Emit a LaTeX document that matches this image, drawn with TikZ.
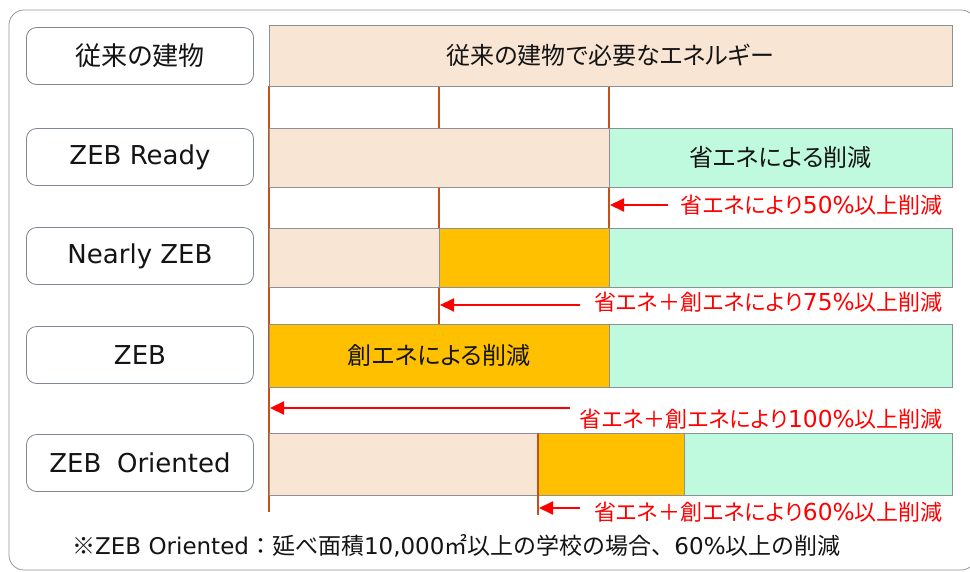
\documentclass[tikz,border=0pt]{standalone}
\usepackage{fontspec}
\setmainfont{Noto Sans CJK JP}[RawFeature={+palt}]
\newfontfamily\jpfull{Noto Sans CJK JP}
\newfontfamily\lat{DejaVu Sans}[Scale=1.0]
\newfontfamily\latb{DejaVu Sans}[Scale=1.06]
\usetikzlibrary{arrows.meta}
\definecolor{beige}{RGB}{248,229,212}
\definecolor{mint}{RGB}{192,250,222}
\definecolor{orng}{RGB}{255,192,0}
\definecolor{bargray}{RGB}{140,145,152}
\definecolor{boxgray}{RGB}{127,134,148}
\definecolor{tickred}{RGB}{197,80,26}
\definecolor{framegray}{RGB}{150,150,160}
\definecolor{txt}{RGB}{20,20,20}
\tikzset{
  lblbox/.style={draw=boxgray, fill=white, line width=0.8pt, rounded corners=10pt,
    minimum width=227pt, minimum height=57pt, inner sep=0pt, text=txt,
    font=\fontsize{26}{26}\selectfont},
  barbox/.style={draw=bargray, line width=1pt, anchor=north west, inner sep=0pt,
    outer sep=0pt, text=txt, font=\fontsize{24}{24}\selectfont},
  tickline/.style={draw=tickred, line width=1.5pt},
  redarrow/.style={draw=red, line width=2pt, -{Triangle[length=14pt,width=13pt]}},
  redtext/.style={text=red, anchor=east, inner sep=0pt, font=\fontsize{22}{22}\selectfont},
}
\begin{document}
\begin{tikzpicture}[x=1pt,y=-1pt]
\useasboundingbox (0,0) rectangle (970,571);
% outer frame
\draw[framegray, line width=0.8pt, rounded corners=15pt] (9,10) rectangle (976,570);

% left labels
\node[lblbox] (l1) at (140,56) {従来の建物};
\node[lblbox] (l2) at (140,157) {\lat ZEB Ready};
\node[lblbox] (l3) at (140,256) {\lat Nearly ZEB};
\node[lblbox] (l4) at (140,355) {\lat ZEB};
\node[lblbox] (l5) at (140,463) {\lat ZEB\hspace{0.6em}Oriented};

% ticks (under bars)
\coordinate (t1a) at (269,86);  \coordinate (t1b) at (269,512);
\coordinate (t2a) at (439,86);  \coordinate (t2b) at (439,324);
\coordinate (t3a) at (609,86);  \coordinate (t3b) at (609,228);
\draw[tickline] (t1a) -- (t1b);
\draw[tickline] (t2a) -- (t2b);
\draw[tickline] (t3a) -- (t3b);

% row 1
\node[barbox, fill=beige, minimum width=683pt, minimum height=61pt] (b1) at (269,25) {従来の建物で必要なエネルギー};
% row 2
\node[barbox, fill=beige, minimum width=340pt, minimum height=59pt] (b2a) at (269,128) {};
\node[barbox, fill=mint, minimum width=343pt, minimum height=59pt] (b2b) at (609,128) {省エネによる削減};
% row 3
\node[barbox, fill=beige, minimum width=170pt, minimum height=59pt] (b3a) at (269,228) {};
\node[barbox, fill=orng, minimum width=170pt, minimum height=59pt] (b3b) at (439,228) {};
\node[barbox, fill=mint, minimum width=343pt, minimum height=59pt] (b3c) at (609,228) {};
% row 4
\node[barbox, fill=orng, minimum width=340pt, minimum height=63pt] (b4a) at (269,324) {創エネによる削減};
\node[barbox, fill=mint, minimum width=343pt, minimum height=63pt] (b4b) at (609,324) {};
% row 5
\node[barbox, fill=beige, minimum width=269pt, minimum height=62pt] (b5a) at (269,433) {};
\node[barbox, fill=orng, minimum width=146pt, minimum height=62pt] (b5b) at (538,433) {};
\node[barbox, fill=mint, minimum width=268pt, minimum height=62pt] (b5c) at (684,433) {};
\coordinate (t4a) at (538,433); \coordinate (t4b) at (538,515);
\draw[tickline] (t4a) -- (t4b);

% arrows and labels
\coordinate (a1s) at (668,205); \coordinate (a1e) at (610,205);
\draw[redarrow] (a1s) -- (a1e);
\node[redtext] (r1) at (943,205) {省エネにより{\latb 50\%}以上削減};

\coordinate (a2s) at (580,305); \coordinate (a2e) at (440,305);
\draw[redarrow] (a2s) -- (a2e);
\node[redtext] (r2) at (943,302) {省エネ＋創エネにより{\latb 75\%}以上削減};

\coordinate (a3s) at (570,408); \coordinate (a3e) at (270,408);
\draw[redarrow] (a3s) -- (a3e);
\node[redtext] (r3) at (943,419) {省エネ＋創エネにより{\latb 100\%}以上削減};

\coordinate (a4s) at (580,508); \coordinate (a4e) at (539,508);
\draw[redarrow] (a4s) -- (a4e);
\node[redtext] (r4) at (943,512) {省エネ＋創エネにより{\latb 60\%}以上削減};

% footnote
\node[anchor=west, inner sep=0pt, text=txt, font=\jpfull\fontsize{23}{23}\selectfont] (fn) at (72,546)
  {※{\lat ZEB Oriented}：延べ面積{\lat 10,000}㎡以上の学校の場合、{\lat 60\%}以上の削減};
\end{tikzpicture}
\end{document}
